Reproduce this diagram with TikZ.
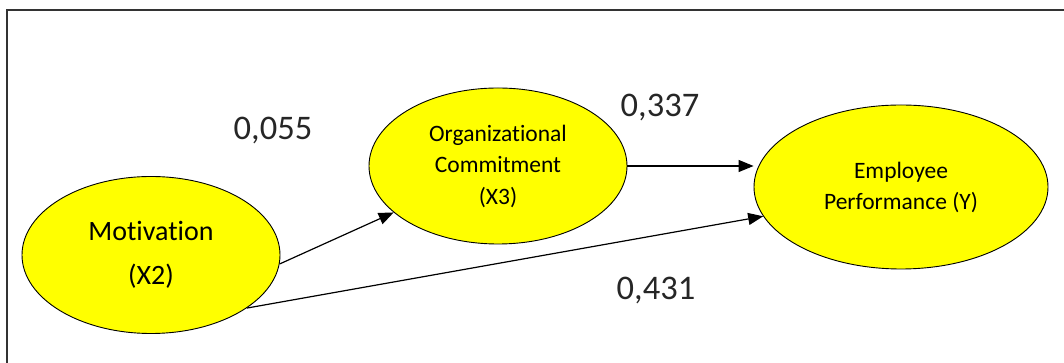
\documentclass[tikz,border=0pt]{standalone}
\usepackage{fontspec}
\setmainfont{Carlito}[Ligatures=NoCommon]
\usetikzlibrary{shapes.geometric,arrows.meta}
\definecolor{varfill}{RGB}{255,255,0}
\begin{document}
\begin{tikzpicture}[x=1pt,y=1pt,
    var/.style={ellipse,draw,fill=varfill,line width=0.9pt,align=center,inner sep=0pt},
    coef/.style={anchor=base,text=black!85,font=\fontsize{34.5}{40}\selectfont},
    effect/.style={-{Triangle[length=15pt,width=12pt]},line width=1.2pt}]
    \useasboundingbox (0,0) rectangle (1064,363);
    \draw[line width=1.5pt,black!80] (7,0) -- (7,353) -- (1064,353);
    \node[var,minimum width=258pt,minimum height=157pt,font=\fontsize{28}{44}\selectfont] (mot) at (151,108) {Motivation\\(X2)};
    \node[var,minimum width=258pt,minimum height=156pt,font=\fontsize{23.5}{31.5}\selectfont] (org) at (498,197) {Organizational\\Commitment\\(X3)};
    \node[var,minimum width=294pt,minimum height=164pt,font=\fontsize{23.5}{31}\selectfont] (perf) at (901,176) {Employee\\Performance (Y)};
    \node[coef] (c1) at (273,223) {0,055};
    \node[coef] (c2) at (660,246) {0,337};
    \node[coef] (c3) at (656,63) {0,431};
    \draw[effect] (mot.-4) -- (org.204);
    \draw[effect] (org.east) -- (org.east -| perf.west);
    \draw[effect] (mot.-29) -- (perf.192);
\end{tikzpicture}
\end{document}
